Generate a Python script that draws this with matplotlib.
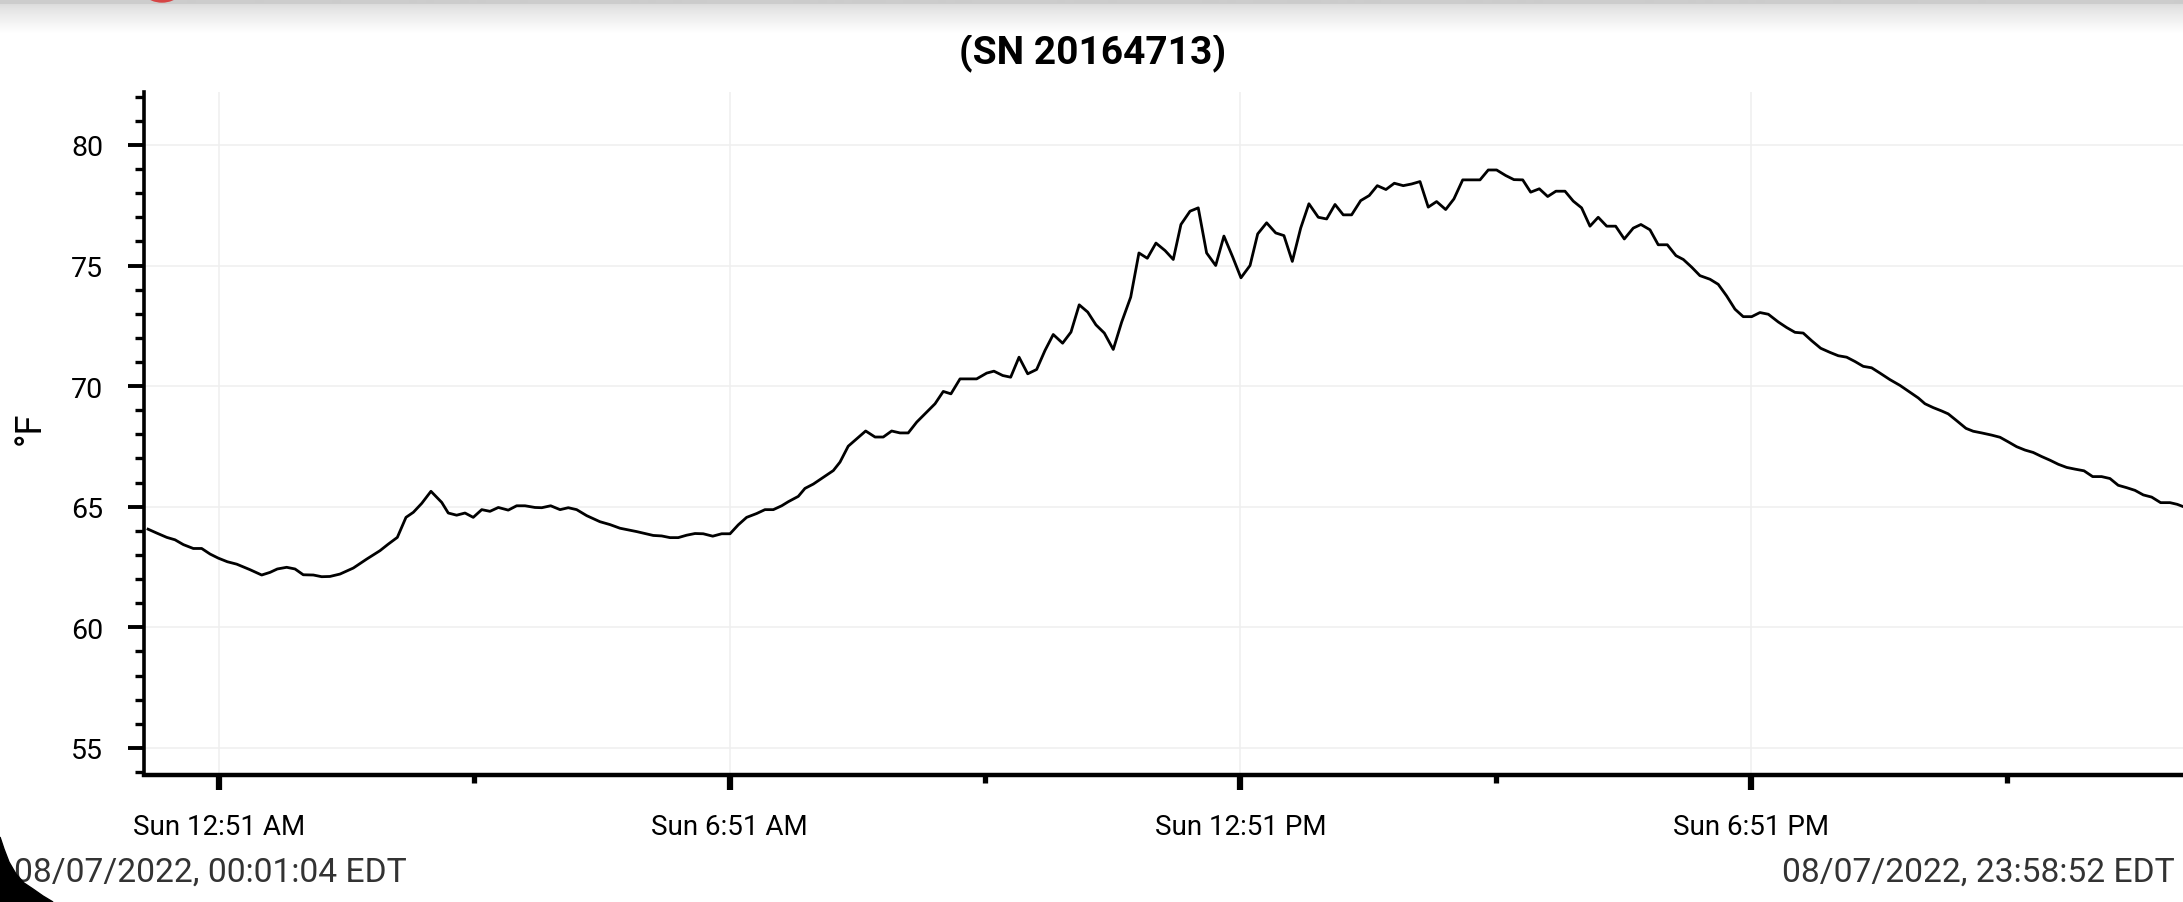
#!/usr/bin/env python3

import numpy as np
import pandas as pd
import matplotlib
matplotlib.use("Agg")
import matplotlib.pyplot as plt
import matplotlib.dates as mdates
from matplotlib.patches import Circle, Polygon
from matplotlib.ticker import FixedLocator, MultipleLocator

plt.rcParams["font.family"] = ["Roboto", "DejaVu Sans"]

TITLE = "(SN 20164713)"
START_LABEL = "08/07/2022, 00:01:04 EDT"
END_LABEL = "08/07/2022, 23:58:52 EDT"
DAY = "2022-08-07"

# minutes after midnight
minutes = [
  1.1, 7.2, 14.3, 20.1, 26.0, 33.0, 38.9, 44.8, 50.6, 57.0,
  63.6, 73.0, 81.2, 87.1, 92.2, 98.8, 104.7, 110.5, 117.6, 123.5,
  129.3, 136.4, 145.8, 155.2, 164.6, 170.4, 176.8, 182.9, 188.1, 194.0,
  200.5, 208.1, 212.7, 218.6, 224.5, 230.3, 236.3, 242.1, 248.0, 255.0,
  260.9, 266.8, 273.8,
  278.6, 284.9, 291.5, 297.3, 303.2, 310.3, 319.6, 326.7, 333.7, 345.5,
  357.2, 363.1, 369.0, 374.8, 380.7, 386.6, 392.4, 399.1, 405.4, 411.3,
  417.1, 423.0, 430.1, 435.9, 441.8, 447.7, 452.4, 459.4, 464.1, 470.0,
  477.0, 484.1, 488.8, 494.6, 500.6, 506.9, 513.5, 519.3, 525.2, 531.1,
  536.9, 542.9,
  549.9, 555.8, 561.6, 567.0, 573.4, 585.1, 592.2, 597.3, 603.5, 609.1,
  615.0, 621.1, 627.4, 633.3, 639.1, 645.7, 651.6, 657.4, 663.4, 669.2,
  675.1, 681.4, 687.3, 693.7, 699.5, 705.4, 711.5, 717.9, 723.7, 729.1,
  735.5, 741.3, 747.2, 753.6, 759.4, 765.6, 771.4, 777.8, 783.2, 789.5,
  795.9, 801.7, 807.6, 813.5, 819.3, 825.9,
  831.8, 837.7, 843.5, 849.4, 855.8, 861.8, 867.5, 873.6, 879.5, 885.8,
  891.7, 897.6, 903.4, 909.3, 915.7, 921.5, 927.7, 934.0, 939.9, 945.7,
  951.6, 958.0, 963.8, 970.0, 975.6, 981.7, 987.6, 993.4, 999.8, 1005.6,
  1011.5, 1017.4, 1023.2, 1029.2, 1035.5, 1041.6, 1047.9, 1053.3, 1059.7, 1065.5,
  1071.9, 1078.0, 1083.2, 1089.1, 1094.9, 1102.0,
  1107.8, 1113.7, 1119.6, 1125.4, 1131.4, 1137.2, 1143.1, 1150.1, 1156.0, 1161.9,
  1167.7, 1173.7, 1180.0, 1186.5, 1192.4, 1198.3, 1204.2, 1210.0, 1215.9, 1221.8,
  1228.8, 1235.9, 1242.9, 1248.8, 1253.5, 1259.3, 1265.3,
  1269.9, 1275.8, 1282.4, 1287.5, 1293.5, 1300.5, 1306.4, 1312.2, 1318.1, 1324.0,
  1329.8, 1335.8, 1341.6, 1347.5, 1353.4, 1359.2, 1365.6, 1371.7, 1378.0, 1383.9,
  1389.7, 1395.7, 1401.5, 1407.4, 1413.3, 1419.6, 1426.2, 1431.3, 1435.6, 1438.9,
]

temps_f = [
  64.07, 63.91, 63.73, 63.63, 63.43, 63.27, 63.27, 63.04, 62.87, 62.72,
  62.62, 62.39, 62.17, 62.28, 62.42, 62.49, 62.42, 62.18, 62.17, 62.10,
  62.11, 62.21, 62.46, 62.83, 63.18, 63.45, 63.73, 64.56, 64.77, 65.14,
  65.64, 65.18, 64.74, 64.65, 64.74, 64.56, 64.88, 64.81, 64.97, 64.86,
  65.04, 65.04, 64.97,
  64.96, 65.04, 64.88, 64.96, 64.88, 64.63, 64.38, 64.26, 64.11, 63.97,
  63.81, 63.79, 63.72, 63.72, 63.82, 63.89, 63.88, 63.78, 63.88, 63.88,
  64.25, 64.56, 64.72, 64.88, 64.88, 65.04, 65.21, 65.43, 65.76, 65.94,
  66.22, 66.50, 66.85, 67.51, 67.82, 68.14, 67.89, 67.89, 68.14, 68.06,
  68.06, 68.51,
  68.92, 69.27, 69.78, 69.68, 70.30, 70.30, 70.54, 70.62, 70.44, 70.37,
  71.20, 70.51, 70.69, 71.48, 72.14, 71.78, 72.24, 73.37, 73.07, 72.54,
  72.20, 71.52, 72.65, 73.69, 75.52, 75.30, 75.93, 75.62, 75.25, 76.70,
  77.25, 77.39, 75.52, 75.00, 76.22, 75.35, 74.49, 75.00, 76.31, 76.77,
  76.35, 76.24, 75.17, 76.55, 77.56, 77.00,
  76.93, 77.53, 77.10, 77.10, 77.69, 77.90, 78.31, 78.15, 78.41, 78.31,
  78.38, 78.48, 77.42, 77.65, 77.32, 77.76, 78.55, 78.55, 78.55, 78.96,
  78.96, 78.73, 78.56, 78.55, 78.04, 78.18, 77.86, 78.08, 78.08, 77.67,
  77.39, 76.63, 77.00, 76.63, 76.63, 76.10, 76.55, 76.70, 76.48, 75.86,
  75.86, 75.41, 75.25, 74.93, 74.58, 74.43,
  74.22, 73.74, 73.19, 72.88, 72.88, 73.05, 72.98, 72.66, 72.43, 72.23,
  72.20, 71.88, 71.57, 71.40, 71.26, 71.20, 71.02, 70.82, 70.76, 70.54,
  70.27, 70.03, 69.75, 69.51, 69.27, 69.11, 68.97,
  68.85, 68.57, 68.25, 68.13, 68.06, 67.97, 67.88, 67.69, 67.49, 67.35,
  67.25, 67.08, 66.93, 66.76, 66.63, 66.56, 66.49, 66.25, 66.25, 66.17,
  65.89, 65.79, 65.68, 65.49, 65.40, 65.17, 65.17, 65.10, 65.00, 64.95,
]

major_ticks = ["00:51", "06:51", "12:51", "18:51"]
major_labels = ["Sun 12:51 AM", "Sun 6:51 AM", "Sun 12:51 PM", "Sun 6:51 PM"]
minor_ticks = ["03:51", "09:51", "15:51", "21:51"]
y_ticks = [55, 60, 65, 70, 75, 80]

W, H = 2183, 903
fig = plt.figure(figsize=(W / 100, H / 100), dpi=100)
fig.patch.set_facecolor("white")

ax = fig.add_axes([144 / W, 1 - 776 / H, (2188 - 144) / W, (776 - 93.3) / H])

base = pd.Timestamp(DAY)
times = base + pd.to_timedelta(minutes, unit="m")
ax.plot(times, temps_f, color="black", lw=2.0, zorder=3)

ax.set_xlim(base - pd.Timedelta(minutes=1.75), base + pd.Timedelta(minutes=1438.9))
ax.set_ylim(53.88, 82.18)

maj = [mdates.date2num(pd.Timestamp(f"{DAY} {t}")) for t in major_ticks]
mnr = [mdates.date2num(pd.Timestamp(f"{DAY} {t}")) for t in minor_ticks]
ax.xaxis.set_major_locator(FixedLocator(maj))
ax.xaxis.set_minor_locator(FixedLocator(mnr))
ax.set_xticklabels(major_labels)
ax.set_yticks(y_ticks)
ax.yaxis.set_minor_locator(MultipleLocator(1))

for s in ["top", "right"]:
  ax.spines[s].set_visible(False)
ax.spines["left"].set_linewidth(2.6)
ax.spines["bottom"].set_linewidth(3.2)

ax.tick_params(axis="x", which="major", length=11, width=4.5, pad=16.5, labelsize=20)
ax.tick_params(axis="x", which="minor", length=6, width=3.8)
ax.tick_params(axis="y", which="major", length=11.5, width=2.8, pad=18, labelsize=20.5)
ax.tick_params(axis="y", which="minor", length=6.5, width=2.4)

ax.grid(True, which="major", color="#efefef", lw=1.1, zorder=0)

fig.text(30 / W, 1 - 428 / H, "°F", rotation=90, ha="center", va="center", fontsize=26)
fig.text(1093 / W, 1 - 53 / H, TITLE, ha="center", va="center", fontsize=28, fontweight="bold")
fig.text(14 / W, 1 - 873 / H, START_LABEL, ha="left", va="center", fontsize=24.2, color="#333333")
fig.text(2175 / W, 1 - 873 / H, END_LABEL, ha="right", va="center", fontsize=24.2, color="#333333")

# screenshot leftovers: app bar shadow, red button, rounded screen corner
deco = fig.add_axes([0, 0, 1, 1], zorder=10)
deco.set_xlim(0, W)
deco.set_ylim(H, 0)
deco.axis("off")
yy = np.arange(36)
shade = np.where(yy < 5, 0.80, 0.86 + 0.14 * ((yy - 5) / 30.0).clip(0, 1) ** 0.8)
deco.imshow(shade[:, None], cmap="gray", vmin=0, vmax=1, extent=(0, W, 36, 0), aspect="auto")
deco.add_patch(Circle((162, -24), 27, color="#d64545"))
deco.add_patch(Polygon([(0, 838), (4, 850), (9, 863), (16, 875), (24, 884), (33, 890),
                        (43, 897), (53, 903), (0, 903)], closed=True, color="black"))
deco.set_xlim(0, W)
deco.set_ylim(H, 0)

fig.savefig("out.png", dpi=100)
